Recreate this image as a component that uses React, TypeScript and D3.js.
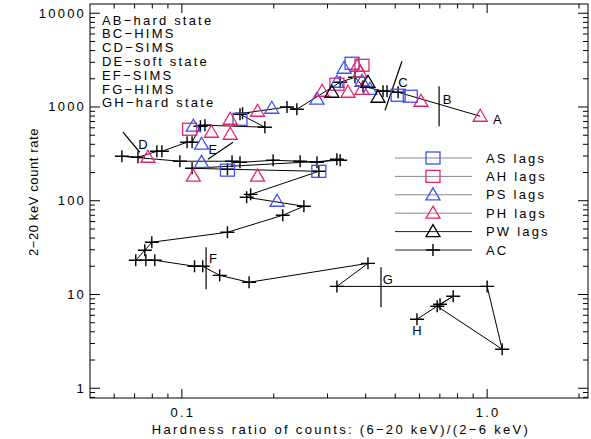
import React from "react";
import * as d3 from "d3";

// AC track (hardness ratio, count rate), in time order A -> H
const acX = [0.511, 0.47, 0.456, 0.392, 0.369, 0.33, 0.238, 0.221, 0.158, 0.155, 0.187, 0.119, 0.115, 0.108, 0.104, 0.086, 0.0828, 0.0718, 0.0636,
  0.0985, 0.146, 0.155, 0.199, 0.244, 0.277, 0.322, 0.33, 0.108, 0.141, 0.281, 0.168, 0.163, 0.251, 0.214, 0.141, 0.0797, 0.0756, 0.0706, 0.0762, 0.0815,
  0.11, 0.117, 0.133, 0.166, 0.407, 0.322, 1.0, 1.12, 0.686, 0.774, 0.701, 0.589];
const acY = [1437, 1472, 1472, 1664, 2075, 1837, 946, 1000, 858, 837, 609, 639, 624, 421, 421, 337, 337, 291, 298,
  264, 264, 257, 270, 264, 257, 277, 270, 222, 217, 206, 117, 109, 87.4, 70.0, 46.1, 36.1, 29.6, 23.2, 23.2, 23.2,
  20.0, 20.0, 16.0, 13.5, 21.5, 12.2, 12.2, 2.61, 7.49, 9.58, 7.87, 5.45];

// lag markers
const asX = [0.361, 0.511, 0.56, 0.155, 0.141, 0.281];
const asY = [2928, 1335, 1302, 740, 212, 206];
const ahX = [0.106, 0.322, 0.389];
const ahY = [579, 1749, 2787];
const psX = [0.277, 0.34, 0.322, 0.389, 0.413, 0.197, 0.109, 0.116, 0.116, 0.205];
const psY = [1212, 2590, 1837, 1883, 1545, 970, 624, 401, 257, 98.8];
const phX = [0.949, 0.607, 0.375, 0.383, 0.288, 0.35, 0.389, 0.177, 0.144, 0.125, 0.144, 0.0774, 0.109, 0.177];
const phY = [797, 1152, 2721, 2348, 1472, 1437, 1545, 901, 740, 538, 512, 291, 183, 183];
const pwX = [0.31, 0.439, 0.407];
const pwY = [1437, 1271, 1837];

// state transition marks
const markNames = ["B", "C", "D", "E", "F", "G"];
const markX1 = [0.696, 0.526, 0.0641, 0.147, 0.12, 0.449];
const markY1 = [1664, 3075, 538, 421, 31.9, 19.5];
const markX2 = [0.696, 0.463, 0.0728, 0.1217, 0.12, 0.449];
const markY2 = [624, 923, 329, 277, 11.4, 7.31];

const letterNames = ["A", "B", "C", "D", "E", "F", "G", "H"];
const letterX = [1.079, 0.739, 0.53, 0.0745, 0.1264, 0.1264, 0.473, 0.589];
const letterY = [740, 1212, 1837, 401, 354, 24.4, 14.5, 4.15];

const stateNotes = ["AB\u2212hard state", "BC\u2212HIMS", "CD\u2212SIMS", "DE\u2212soft state", "EF\u2212SIMS", "FG\u2212HIMS", "GH\u2212hard state"];

const xMajor = [0.1, 1.0];
const xMajorLabels = ["0.1", "1.0"];
const yMajor = [1, 10, 100, 1000, 10000];

const W = 591, H = 439;
const BLUE = "#3d50f0";
const PINK = "#e6226e";
const FONT = "Liberation Sans, Arial, sans-serif";

const x = d3.scaleLog().domain([0.05, 2.14]).range([90, 588]);
const y = d3.scaleLog().domain([0.787, 12550]).range([398, 4]);

const plus = "M-7,0H7M0,-6V6";
const tri = "M0,-7L7,5L-7,5Z";

function Marker({ kind, color }: { kind: string; color: string }) {
  if (kind === "sq") return <rect x={-7} y={-6} width={14} height={12} fill="none" stroke={color} strokeWidth={1.3} />;
  if (kind === "tri") return <path d={tri} fill="none" stroke={color} strokeWidth={1.3} />;
  return <path d={plus} fill="none" stroke={color} strokeWidth={1.4} />;
}

export default function App() {
  const [x0, x1] = x.domain();
  const [y0, y1] = y.domain();
  const xMinor: number[] = [];
  for (const dec of [0.01, 0.1, 1]) for (let k = 2; k <= 9; k++) { const v = dec * k; if (v > x0 && v < x1) xMinor.push(v); }
  const yMinor: number[] = [];
  for (const dec of [0.1, 1, 10, 100, 1000, 10000]) for (let k = 2; k <= 9; k++) { const v = dec * k; if (v > y0 && v < y1) yMinor.push(v); }

  const line = d3.line<number>().x((i) => x(i < 0 ? phX[0] : acX[i])).y((i) => y(i < 0 ? phY[0] : acY[i]));
  const idx = [-1, ...acX.map((_, i) => i)];

  const [L, R] = x.range();
  const [B, T] = y.range();

  const groups = [
    { xs: asX, ys: asY, kind: "sq", color: BLUE },
    { xs: ahX, ys: ahY, kind: "sq", color: PINK },
    { xs: psX, ys: psY, kind: "tri", color: BLUE },
    { xs: phX, ys: phY, kind: "tri", color: PINK },
    { xs: pwX, ys: pwY, kind: "tri", color: "#000" },
  ];

  const legend = [
    { label: "AS lags", kind: "sq", color: BLUE, lc: "#888" },
    { label: "AH lags", kind: "sq", color: PINK, lc: "#888" },
    { label: "PS lags", kind: "tri", color: BLUE, lc: "#888" },
    { label: "PH lags", kind: "tri", color: PINK, lc: "#888" },
    { label: "PW lags", kind: "tri", color: "#000", lc: "#222" },
    { label: "AC", kind: "plus", color: "#000", lc: "#222" },
  ];

  return (
    <svg width={W} height={H} style={{ position: "absolute", left: 0, top: 0, background: "#fff" }} fontFamily={FONT}>
      <rect width={W} height={H} fill="#fff" />
      {/* frame */}
      <rect x={L} y={T} width={R - L} height={B - T} fill="none" stroke="#000" strokeWidth={1} />
      {/* x ticks bottom & top */}
      {xMajor.map((v) => (
        <g key={"xm" + v}>
          <line x1={x(v)} x2={x(v)} y1={B} y2={B - 9} stroke="#000" />
          <line x1={x(v)} x2={x(v)} y1={T} y2={T + 9} stroke="#000" />
        </g>
      ))}
      {xMinor.map((v) => (
        <g key={"xn" + v}>
          <line x1={x(v)} x2={x(v)} y1={B} y2={B - 4.5} stroke="#000" />
          <line x1={x(v)} x2={x(v)} y1={T} y2={T + 4.5} stroke="#000" />
        </g>
      ))}
      {xMajor.map((v, i) => (
        <text key={"xl" + v} x={x(v) + 1} y={417} fontSize={13} letterSpacing={2.2} textAnchor="middle">{xMajorLabels[i]}</text>
      ))}
      {/* y ticks left & right */}
      {yMajor.map((v) => (
        <g key={"ym" + v}>
          <line x1={L} x2={L + 10} y1={y(v)} y2={y(v)} stroke="#000" />
          <line x1={R} x2={R - 10} y1={y(v)} y2={y(v)} stroke="#000" />
          <text x={86} y={y(v) + 4.5} fontSize={13} letterSpacing={2.2} textAnchor="end">{String(v)}</text>
        </g>
      ))}
      {yMinor.map((v) => (
        <g key={"yn" + v}>
          <line x1={L} x2={L + 5} y1={y(v)} y2={y(v)} stroke="#000" />
          <line x1={R} x2={R - 5} y1={y(v)} y2={y(v)} stroke="#000" />
        </g>
      ))}
      {/* axis titles */}
      <text x={341} y={434} fontSize={13} letterSpacing={2.3} textAnchor="middle">
        Hardness ratio of counts: (6{"\u2212"}20 keV)/(2{"\u2212"}6 keV)
      </text>
      <text transform="translate(38,192) rotate(-90)" fontSize={13} letterSpacing={0.6} textAnchor="middle">
        2{"\u2212"}20 keV count rate
      </text>

      {/* AC track */}
      <path d={line(idx) || ""} fill="none" stroke="#000" strokeWidth={1} />
      {markNames.map((m, i) => (
        <line key={"mk" + m} x1={x(markX1[i])} y1={y(markY1[i])} x2={x(markX2[i])} y2={y(markY2[i])} stroke="#000" strokeWidth={1.2} />
      ))}
      {acX.map((v, i) => (
        <g key={"ac" + i} transform={`translate(${x(v)},${y(acY[i])})`}><Marker kind="plus" color="#000" /></g>
      ))}
      {groups.map((g, gi) =>
        g.xs.map((v, i) => (
          <g key={`g${gi}-${i}`} transform={`translate(${x(v)},${y(g.ys[i])})`}><Marker kind={g.kind} color={g.color} /></g>
        ))
      )}
      {letterNames.map((l, i) => (
        <text key={"lt" + l} x={x(letterX[i])} y={y(letterY[i]) + 5} fontSize={13} textAnchor="middle">{l}</text>
      ))}

      {/* state notes */}
      {stateNotes.map((s, i) => (
        <text key={"sn" + i} x={102} y={24.5 + i * 13.8} fontSize={13} letterSpacing={2.2}>{s}</text>
      ))}

      {/* legend */}
      {legend.map((d, i) => {
        const ly = 158 + i * 18.4;
        return (
          <g key={"lg" + i}>
            <line x1={395} x2={472} y1={ly} y2={ly} stroke={d.lc} strokeWidth={1} />
            <g transform={`translate(433,${ly})`}><Marker kind={d.kind} color={d.color} /></g>
            <text x={486} y={ly + 4.5} fontSize={13} letterSpacing={2.2}>{d.label}</text>
          </g>
        );
      })}
    </svg>
  );
}
